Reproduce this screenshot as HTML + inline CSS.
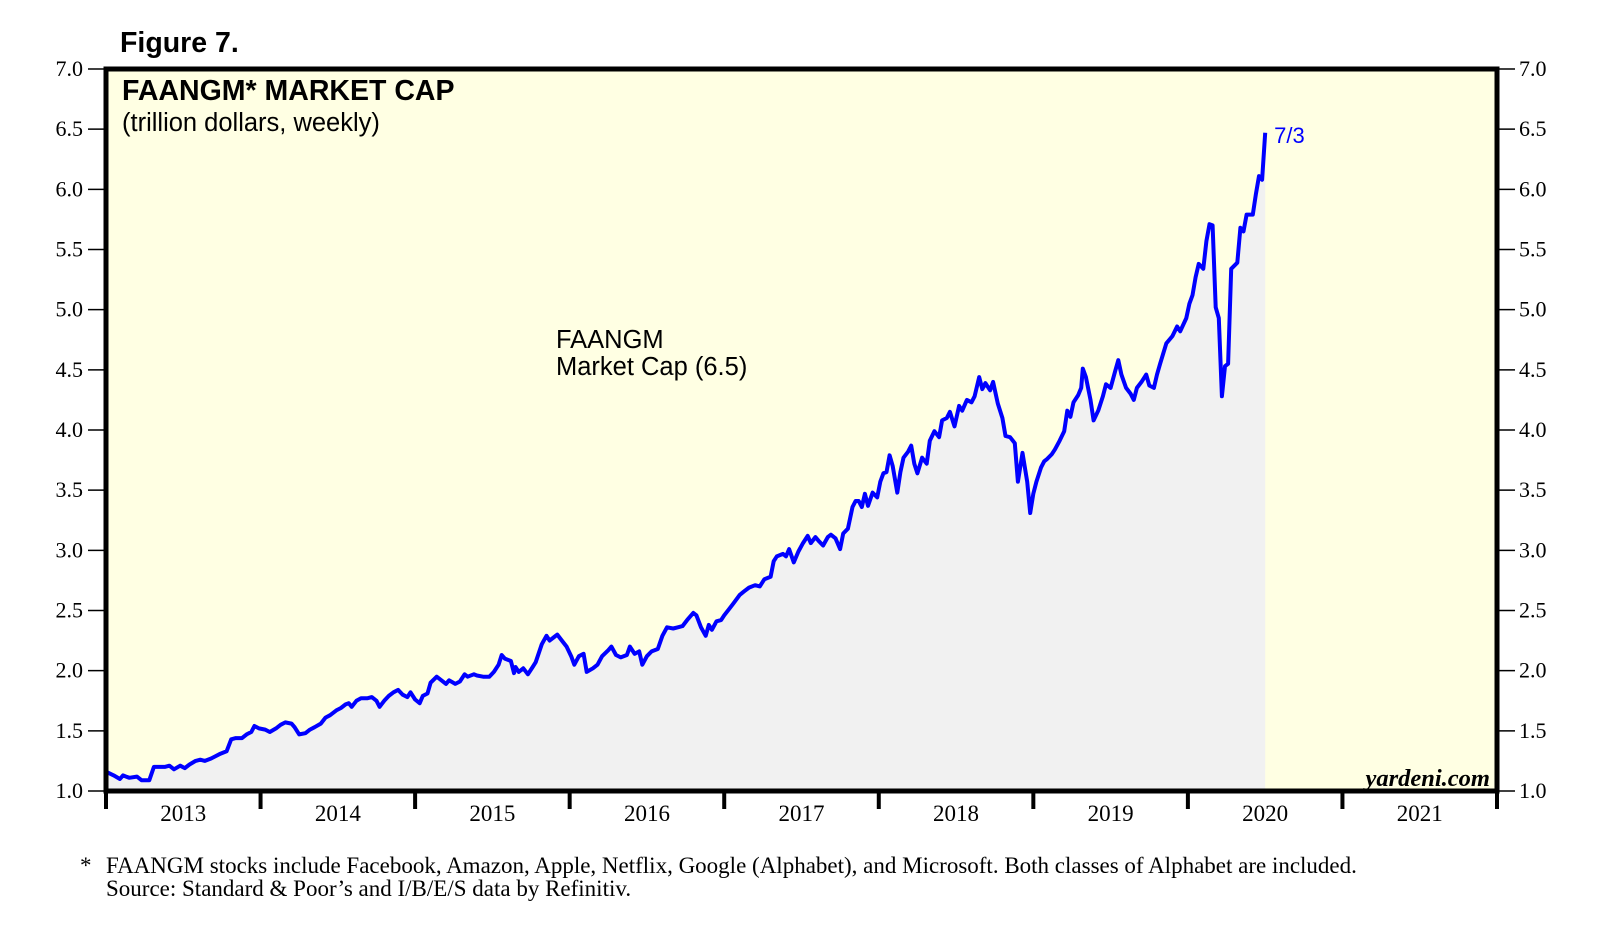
<!DOCTYPE html>
<html><head><meta charset="utf-8"><style>
body{margin:0;background:#fff;}
svg{display:block;}
</style></head><body>
<svg id="chart" width="1610" height="950" xmlns="http://www.w3.org/2000/svg">
<text x="120" y="52" font-family="Liberation Sans, sans-serif" font-weight="bold" font-size="28.5">Figure 7.</text>
<rect x="106" y="69" width="1391" height="722" fill="#ffffe3"/>
<g id="marks"></g>
<rect x="106" y="69" width="1391" height="722" fill="none" stroke="#000" stroke-width="5"/>
<text x="122" y="100" font-family="Liberation Sans, sans-serif" font-weight="bold" font-size="28.5">FAANGM* MARKET CAP</text>
<text x="122" y="131" font-family="Liberation Sans, sans-serif" font-size="25.5">(trillion dollars, weekly)</text>
<text x="556" y="348" font-family="Liberation Sans, sans-serif" font-size="25.5"><tspan x="556" y="348">FAANGM</tspan><tspan x="556" y="375">Market Cap (6.5)</tspan></text>
<text x="1490" y="786" text-anchor="end" font-family="Liberation Serif, serif" font-style="italic" font-weight="bold" font-size="24.5">yardeni.com</text>
<g id="axes"></g>
<text x="80" y="873" font-family="Liberation Serif, serif" font-size="23">*</text>
<text x="106" y="873" font-family="Liberation Serif, serif" font-size="23">FAANGM stocks include Facebook, Amazon, Apple, Netflix, Google (Alphabet), and Microsoft. Both classes of Alphabet are included.</text>
<text x="106" y="896" font-family="Liberation Serif, serif" font-size="23">Source: Standard &amp; Poor’s and I/B/E/S data by Refinitiv.</text>
</svg>
<script>
const dates=[2013.00,2013.05,2013.09,2013.11,2013.15,2013.20,2013.23,2013.28,2013.31,2013.35,2013.38,2013.41,2013.44,2013.48,2013.51,2013.54,2013.58,2013.61,2013.64,2013.68,2013.71,2013.74,2013.78,2013.81,2013.84,2013.88,2013.91,2013.94,2013.96,2013.99,
2014.03,2014.06,2014.10,2014.13,2014.16,2014.20,2014.22,2014.25,2014.29,2014.32,2014.35,2014.39,2014.42,2014.45,2014.49,2014.52,2014.55,2014.57,2014.59,2014.62,2014.65,2014.69,2014.72,2014.75,2014.77,2014.80,2014.83,2014.86,2014.89,2014.92,2014.95,2014.97,
2015.00,2015.03,2015.05,2015.08,2015.10,2015.14,2015.17,2015.20,2015.22,2015.26,2015.29,2015.32,2015.34,2015.38,2015.40,2015.44,2015.48,2015.51,2015.54,2015.56,2015.58,2015.62,2015.64,2015.65,2015.67,2015.70,2015.73,2015.76,2015.78,2015.82,2015.85,2015.87,2015.90,2015.92,2015.95,2015.98,
2016.01,2016.03,2016.06,2016.09,2016.11,2016.15,2016.18,2016.21,2016.25,2016.27,2016.30,2016.33,2016.37,2016.39,2016.42,2016.45,2016.47,2016.50,2016.53,2016.57,2016.60,2016.63,2016.67,2016.70,2016.73,2016.76,2016.80,2016.82,2016.85,2016.88,2016.90,2016.92,2016.95,2016.98,
2017.00,2017.03,2017.06,2017.10,2017.13,2017.16,2017.20,2017.23,2017.26,2017.30,2017.32,2017.34,2017.38,2017.40,2017.42,2017.45,2017.48,2017.51,2017.54,2017.56,2017.59,2017.61,2017.64,2017.67,2017.69,2017.72,2017.75,2017.77,2017.80,2017.83,2017.85,2017.87,2017.89,2017.91,2017.93,2017.96,2017.99,
2018.01,2018.03,2018.05,2018.07,2018.09,2018.12,2018.14,2018.16,2018.19,2018.21,2018.23,2018.25,2018.28,2018.31,2018.33,2018.36,2018.39,2018.41,2018.44,2018.46,2018.49,2018.52,2018.54,2018.57,2018.60,2018.62,2018.65,2018.67,2018.69,2018.72,2018.74,2018.77,2018.80,2018.82,2018.85,2018.88,2018.90,2018.93,2018.96,2018.98,
2019.00,2019.02,2019.05,2019.07,2019.09,2019.12,2019.14,2019.17,2019.20,2019.22,2019.24,2019.26,2019.29,2019.31,2019.32,2019.34,2019.37,2019.39,2019.42,2019.45,2019.47,2019.50,2019.53,2019.55,2019.57,2019.60,2019.63,2019.65,2019.67,2019.70,2019.73,2019.75,2019.78,2019.80,2019.82,2019.86,2019.90,2019.93,2019.95,2019.99,
2020.01,2020.03,2020.05,2020.07,2020.10,2020.12,2020.14,2020.16,2020.18,2020.20,2020.22,2020.24,2020.26,2020.28,2020.32,2020.34,2020.36,2020.38,2020.42,2020.44,2020.46,2020.48,2020.50];
const marketCap=[1.16,1.13,1.10,1.13,1.11,1.12,1.09,1.09,1.20,1.20,1.20,1.21,1.18,1.21,1.19,1.22,1.25,1.26,1.25,1.27,1.29,1.31,1.33,1.43,1.44,1.44,1.47,1.49,1.54,1.52,
1.51,1.49,1.52,1.55,1.57,1.56,1.53,1.47,1.48,1.51,1.53,1.56,1.61,1.63,1.67,1.69,1.72,1.73,1.70,1.75,1.77,1.77,1.78,1.75,1.70,1.75,1.79,1.82,1.84,1.80,1.78,1.82,
1.76,1.73,1.79,1.81,1.90,1.95,1.92,1.89,1.92,1.89,1.91,1.97,1.95,1.97,1.96,1.95,1.95,1.99,2.05,2.13,2.10,2.08,1.98,2.03,1.99,2.02,1.97,2.03,2.07,2.22,2.29,2.25,2.28,2.30,2.25,2.20,
2.12,2.05,2.12,2.14,1.99,2.02,2.05,2.12,2.17,2.20,2.13,2.11,2.13,2.20,2.14,2.16,2.05,2.12,2.16,2.18,2.29,2.36,2.35,2.36,2.37,2.42,2.48,2.46,2.36,2.29,2.38,2.34,2.41,2.42,
2.46,2.51,2.56,2.63,2.66,2.69,2.71,2.70,2.76,2.78,2.91,2.95,2.97,2.95,3.01,2.90,2.99,3.06,3.12,3.06,3.11,3.08,3.04,3.11,3.13,3.10,3.01,3.14,3.18,3.36,3.41,3.41,3.36,3.47,3.37,3.48,3.44,
3.57,3.64,3.65,3.79,3.70,3.48,3.65,3.77,3.82,3.87,3.72,3.64,3.77,3.72,3.91,3.99,3.94,4.08,4.10,4.15,4.03,4.20,4.16,4.25,4.23,4.28,4.44,4.34,4.39,4.33,4.40,4.22,4.10,3.95,3.94,3.89,3.57,3.81,3.57,3.31,
3.47,3.57,3.69,3.74,3.76,3.80,3.84,3.91,3.99,4.16,4.11,4.23,4.29,4.35,4.51,4.44,4.25,4.08,4.16,4.28,4.38,4.35,4.49,4.58,4.46,4.35,4.30,4.25,4.35,4.40,4.46,4.37,4.35,4.46,4.55,4.72,4.78,4.86,4.82,4.93,
5.05,5.12,5.27,5.38,5.34,5.57,5.71,5.70,5.02,4.93,4.28,4.53,4.55,5.34,5.39,5.68,5.65,5.79,5.79,5.96,6.11,6.08,6.47];
const yTicks=[1.0,1.5,2.0,2.5,3.0,3.5,4.0,4.5,5.0,5.5,6.0,6.5,7.0];
const yearLabels=[2013,2014,2015,2016,2017,2018,2019,2020,2021];
const lastLabel="7/3";

const NS="http://www.w3.org/2000/svg";
const L=106,R=1497,T=69,B=791;
const X0=2013,X1=2022,Y0=1,Y1=7;
function xs(t){return L+(t-X0)/(X1-X0)*(R-L);}
function ys(v){return B-(v-Y0)/(Y1-Y0)*(B-T);}
function mk(tag,attrs,parent){const e=document.createElementNS(NS,tag);for(const k in attrs)e.setAttribute(k,attrs[k]);parent.appendChild(e);return e;}
const marks=document.getElementById('marks');
const axes=document.getElementById('axes');
let pts=dates.map((d,i)=>xs(d).toFixed(1)+','+ys(marketCap[i]).toFixed(1));
const area=mk('path',{d:'M'+xs(dates[0])+','+B+' L'+pts.join(' L')+' L'+xs(dates[dates.length-1])+','+B+' Z',fill:'#f1f1f1'},marks);


const line=mk('polyline',{points:pts.join(' '),fill:'none',stroke:'#0000ff','stroke-width':4,'stroke-linejoin':'round'},marks);


const lt=mk('text',{x:xs(dates[dates.length-1])+9,y:ys(marketCap[marketCap.length-1])+10,'font-family':'Liberation Sans, sans-serif','font-size':22,fill:'#0000ff'},marks);
lt.textContent=lastLabel;


yTicks.forEach(v=>{
  const y=ys(v);
  const t1=mk('line',{x1:88,x2:106,y1:y,y2:y,stroke:'#000','stroke-width':1.5},axes);
  
  
  const t2=mk('line',{x1:1497,x2:1515,y1:y,y2:y,stroke:'#000','stroke-width':1.5},axes);
  
  
  const a=mk('text',{x:83,y:y+7,'text-anchor':'end','font-family':'Liberation Serif, serif','font-size':22},axes);
  a.textContent=v.toFixed(1);
  
  
  const b=mk('text',{x:1519,y:y+7,'font-family':'Liberation Serif, serif','font-size':22},axes);
  b.textContent=v.toFixed(1);
  
  
});
for(let yr=X0;yr<=X1;yr++){
  const x=xs(yr);
  const tk=mk('line',{x1:x,x2:x,y1:B,y2:B+18,stroke:'#000','stroke-width':4},axes);
  
  
}
yearLabels.forEach(yr=>{
  const tx=mk('text',{x:xs(yr+0.5),y:B+30,'text-anchor':'middle','font-family':'Liberation Serif, serif','font-size':23},axes);
  tx.textContent=yr;
  
  
});
</script>
</body></html>
